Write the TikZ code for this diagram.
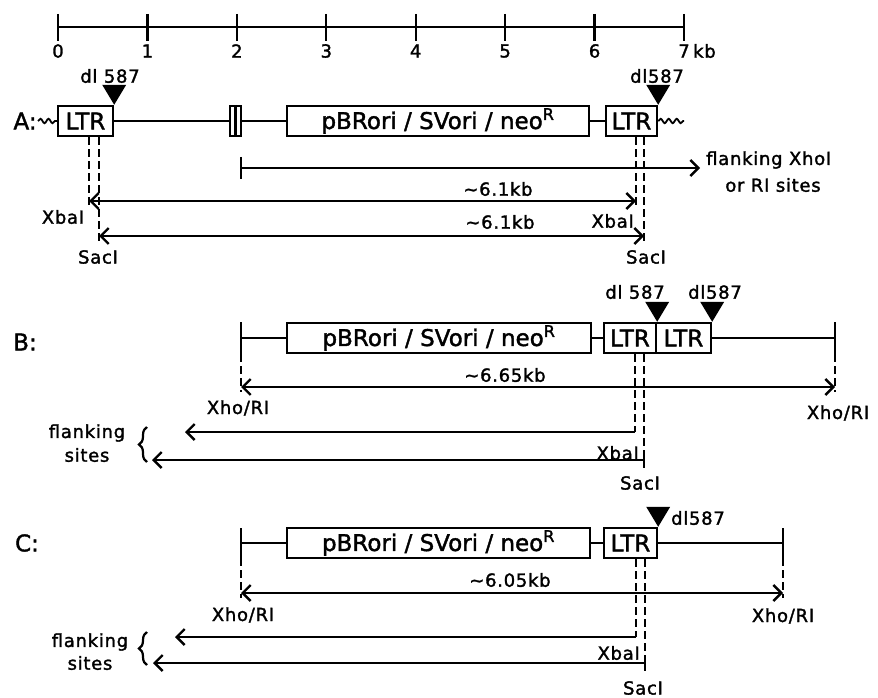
\documentclass[tikz,border=0pt]{standalone}
\usepackage{fontspec}
\setmainfont{DejaVu Sans}[FakeBold=1.2]
\newfontfamily\boxfam{DejaVu Sans}[FakeBold=1.6]
\newfontfamily\lblfam{DejaVu Sans}[LetterSpace=4, FakeBold=1.6]
\newcommand{\boxfont}{\boxfam\fontsize{23}{25}\selectfont}
\newcommand{\lblfont}{\lblfam\fontsize{18}{20}\selectfont}
\usetikzlibrary{arrows.meta, decorations.pathmorphing, decorations.pathreplacing}
\tikzset{
	dna/.style={
			line width=2.4pt
		},
	dnabox/.style={
			draw=black,
			line width=2.4pt,
			fill=white,
			minimum height=30pt,
			inner sep=0pt,
			font=\boxfont
		},
	site/.style={
			line width=2.2pt,
			dash pattern=on 8pt off 4pt
		},
	sizearrow/.style={
			line width=2.4pt,
			{Straight Barb[length=8pt,width=16pt]}-{Straight Barb[length=8pt,width=16pt]}
		},
	toarrow/.style={
			line width=2.4pt,
			-{Straight Barb[length=8pt,width=16pt]}
		},
	wave/.style={
			line width=1.8pt,
			decorate,
			decoration={snake, amplitude=2.2pt, segment length=8pt}
		},
	bracket/.style={
			line width=2.2pt,
			decorate,
			decoration={brace, amplitude=8pt}
		},
	deltri/.pic={
			\fill (-12,-20) -- (12,-20) -- (0,0) -- cycle;
		}
}
\tikzset{
	sitetext/.style={font=\lblfont, inner sep=0pt}
}
\tikzset{
	rowtext/.style={font=\boxfont, inner sep=0pt}
}

\begin{document}
\begin{tikzpicture}[x=1pt, y=-1pt]
\useasboundingbox (0,0) rectangle (878,698);

% scale
\draw[dna] (58,27) coordinate (s0) -- (684,27) coordinate (s7);
\foreach \k in {0,...,7} {
	\draw[dna] (58+89.43*\k,14) -- (58+89.43*\k,41);
	\node[sitetext] (t\k) at (58+89.43*\k,51) {\k};
}
\node[sitetext, anchor=west] (kb) at (693,51) {kb};

% A
\node[rowtext] (aName) at (25,121) {A:};
\coordinate (aW1) at (38,121);
\coordinate (aW2) at (684,121);
\node[dnabox, minimum width=55pt] (aL1) at (85.5,121) {LTR};
\node[dnabox, minimum width=11pt] (aM) at (235.5,121) {};
\node[dnabox, minimum width=302pt] (aP) at (438,121) {pBRori / SVori / neo\textsuperscript{R}};
\node[dnabox, minimum width=51pt] (aL2) at (631.5,121) {LTR};
\draw[dna] (aM.north) -- (aM.south);
\draw[wave] (aW1) -- (aL1);
\draw[dna] (aL1) -- (aM);
\draw[dna] (aM) -- (aP);
\draw[dna] (aP) -- (aL2);
\draw[wave] (aL2) -- (aW2);
\pic at (aL1.north east) {deltri};
\pic at (aL2.north east) {deltri};
\node[sitetext] (aD1) at (110,76) {dl 587};
\node[sitetext] (aD2) at (657,76) {dl587};

\coordinate (aF1) at (241,168);
\coordinate (aF2) at (700,168);
\draw[dna] (aF1) ++(0,-11) -- ++(0,22);
\draw[toarrow] (aF1) -- (aF2);
\node[sitetext, anchor=west] (aFl) at (706,160) {flanking XhoI};
\node[sitetext] (aOr) at (773,185) {or RI sites};

\coordinate (aXb1) at (89,201);
\coordinate (aXb2) at (636,201);
\coordinate (aSc1) at (99,236);
\coordinate (aSc2) at (644,236);
\draw[site] (aL1.south -| aXb1) -- (aXb1) -- ++(0,6);
\draw[site] (aL1.south -| aSc1) -- (aSc1) -- ++(0,6);
\draw[site] (aL2.south -| aXb2) -- (aXb2) -- ++(0,6);
\draw[site] (aL2.south -| aSc2) -- (aSc2) -- ++(0,6);
\draw[sizearrow] (aXb1) -- (aXb2);
\draw[sizearrow] (aSc1) -- (aSc2);
\node[sitetext] (aK1) at (498,189) {\textasciitilde 6.1kb};
\node[sitetext] (aK2) at (500,222) {\textasciitilde 6.1kb};
\node[sitetext] (aXl1) at (63,217) {XbaI};
\node[sitetext, anchor=east] (aXl2) at (634,221) {XbaI};
\node[sitetext] (aSl1) at (98,257) {SacI};
\node[sitetext] (aSl2) at (646,257) {SacI};

% B
\node[rowtext] (bName) at (25,342) {B:};
\coordinate (bE1) at (241,338);
\coordinate (bE2) at (835,338);
\node[dnabox, minimum width=304pt] (bP) at (439,338) {pBRori / SVori / neo\textsuperscript{R}};
\node[dnabox, minimum width=52pt] (bL1) at (630,338) {LTR};
\node[dnabox, minimum width=55pt] (bL2) at (683.5,338) {LTR};
\draw[dna] (bE1) -- (bP);
\draw[dna] (bP) -- (bL1);
\draw[dna] (bL2) -- (bE2);
\draw[dna] (bE1) ++(0,-16) -- ++(0,32);
\draw[dna] (bE2) ++(0,-16) -- ++(0,32);
\pic at (bL1.north east) {deltri};
\pic at (bL2.north east) {deltri};
\node[sitetext] (bD1) at (635,292) {dl 587};
\node[sitetext] (bD2) at (715,292) {dl587};

\coordinate (bX1) at (241,387);
\coordinate (bX2) at (835,387);
\draw[site] (bE1) ++(0,16) -- (bX1) -- ++(0,5);
\draw[site] (bE2) ++(0,16) -- (bX2) -- ++(0,5);
\draw[sizearrow] (bX1) -- (bX2);
\node[sitetext] (bK) at (505,375) {\textasciitilde 6.65kb};
\node[sitetext] (bXh1) at (238,408) {Xho/RI};
\node[sitetext] (bXh2) at (838,413) {Xho/RI};

\coordinate (bXb) at (635,432);
\coordinate (bSc) at (644,460);
\coordinate (bXbF) at (185,432);
\coordinate (bScF) at (152,460);
\draw[site] (bL1.south -| bXb) -- (bXb);
\draw[site] (bL1.south -| bSc) -- (bSc);
\draw[dna] (bSc) ++(0,-8) -- ++(0,16);
\draw[toarrow] (bXb) -- (bXbF);
\draw[toarrow] (bSc) -- (bScF);
\node[sitetext, anchor=east] (bXl) at (639,453) {XbaI};
\node[sitetext] (bSl) at (640,483) {SacI};
\draw[bracket] (147,462) -- (147,427);
\node[sitetext] (bFl) at (87,433) {flanking};
\node[sitetext] (bSi) at (87,455) {sites};

% C
\node[rowtext] (cName) at (27,543) {C:};
\coordinate (cE1) at (241,543);
\coordinate (cE2) at (783,543);
\node[dnabox, minimum width=303pt] (cP) at (438.5,543) {pBRori / SVori / neo\textsuperscript{R}};
\node[dnabox, minimum width=53pt] (cL1) at (630.5,543) {LTR};
\draw[dna] (cE1) -- (cP);
\draw[dna] (cP) -- (cL1);
\draw[dna] (cL1) -- (cE2);
\draw[dna] (cE1) ++(0,-15) -- ++(0,30);
\draw[dna] (cE2) ++(0,-15) -- ++(0,30);
\pic at (cL1.north east) {deltri};
\node[sitetext] (cD1) at (698,518) {dl587};

\coordinate (cX1) at (241,593);
\coordinate (cX2) at (783,593);
\draw[site] (cE1) ++(0,15) -- (cX1) -- ++(0,5);
\draw[site] (cE2) ++(0,15) -- (cX2) -- ++(0,5);
\draw[sizearrow] (cX1) -- (cX2);
\node[sitetext] (cK) at (510,580) {\textasciitilde 6.05kb};
\node[sitetext] (cXh1) at (243,615) {Xho/RI};
\node[sitetext] (cXh2) at (783,616) {Xho/RI};

\coordinate (cXb) at (636,637);
\coordinate (cSc) at (645,663);
\coordinate (cXbF) at (175,637);
\coordinate (cScF) at (153,663);
\draw[site] (cL1.south -| cXb) -- (cXb);
\draw[site] (cL1.south -| cSc) -- (cSc);
\draw[dna] (cSc) ++(0,-8) -- ++(0,16);
\draw[toarrow] (cXb) -- (cXbF);
\draw[toarrow] (cSc) -- (cScF);
\node[sitetext, anchor=east] (cXl) at (640,653) {XbaI};
\node[sitetext] (cSl) at (643,688) {SacI};
\draw[bracket] (147,665) -- (147,632);
\node[sitetext] (cFl) at (90,642) {flanking};
\node[sitetext] (cSi) at (90,663) {sites};
\end{tikzpicture}
\end{document}
